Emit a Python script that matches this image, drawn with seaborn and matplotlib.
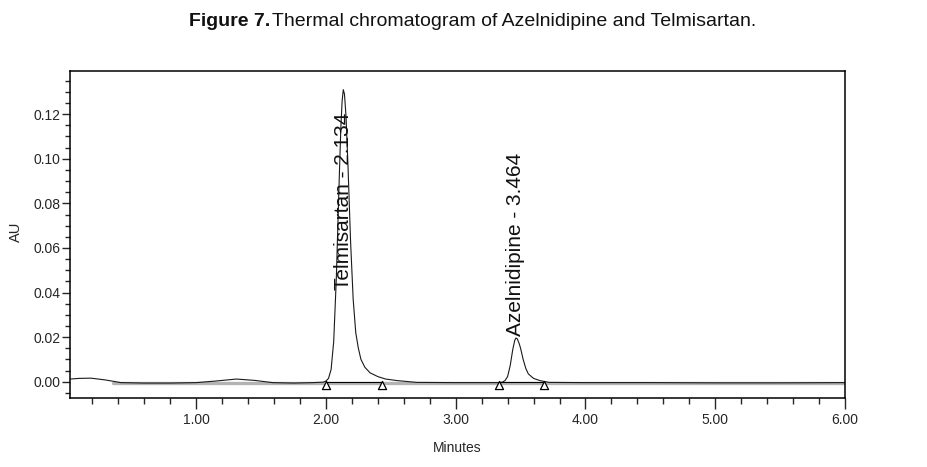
import matplotlib
matplotlib.use("Agg")
import matplotlib.pyplot as plt
from matplotlib.ticker import MultipleLocator, FormatStrFormatter
import seaborn as sns
import pandas as pd

# chromatogram trace (minutes, AU)
time_min = [0.03, 0.10, 0.19, 0.30, 0.42, 0.60, 0.80, 1.00, 1.15, 1.31, 1.45, 1.59, 1.75, 1.90,
            1.98, 2.00, 2.02, 2.04, 2.06, 2.08, 2.10, 2.115, 2.125, 2.134, 2.143, 2.155, 2.17,
            2.19, 2.21, 2.23, 2.25, 2.27, 2.30, 2.34, 2.40, 2.46, 2.55, 2.70, 3.00, 3.20, 3.33,
            3.36, 3.38, 3.40, 3.42, 3.44, 3.455, 3.464, 3.475, 3.49, 3.50, 3.52, 3.54, 3.56,
            3.60, 3.65, 3.72, 4.00, 4.50, 5.00, 5.50, 6.00]
au = [0.0012, 0.0015, 0.0016, 0.0008, -0.0004, -0.0006, -0.0006, -0.0004, 0.0003, 0.0012,
      0.0006, -0.0004, -0.0006, -0.0004, -0.0002, 0.0003, 0.0015, 0.0055, 0.018, 0.046, 0.086,
      0.114, 0.126, 0.131, 0.129, 0.119, 0.097, 0.063, 0.037, 0.022, 0.015, 0.010, 0.0065,
      0.004, 0.0023, 0.0012, 0.0005, -0.0003, -0.0004, -0.0004, -0.0004, -0.0002, 0.0005,
      0.0023, 0.0072, 0.0145, 0.0185, 0.0196, 0.0192, 0.0170, 0.0150, 0.0100, 0.0060, 0.0035,
      0.0015, 0.0005, -0.0003, -0.0004, -0.0004, -0.0005, -0.0005, -0.0004]

# flat baseline (grey band under the trace)
base_t = [0.36, 6.00]
base_au = [-0.0004, -0.0004]

# integration start/end marks
mark_t = [2.00, 2.43, 3.33, 3.68]
mark_au = [-0.0013, -0.0013, -0.0013, -0.0013]

# peak names
peak_t = [2.134, 3.464]
peak_label_y = [0.041, 0.0205]
peak_names = ["Telmisartan - 2.134", "Azelnidipine - 3.464"]

trace = pd.DataFrame({"Minutes": time_min, "AU": au})
marks = pd.DataFrame({"Minutes": mark_t, "AU": mark_au})

sns.set_style("ticks")
plt.rcParams['font.family'] = ['Liberation Sans', 'DejaVu Sans']

fig = plt.figure(figsize=(9.28, 4.67), dpi=100)
ax = fig.add_axes([70 / 928, 1 - 398 / 467, 775 / 928, 327.3 / 467])

ax.plot(base_t, base_au, color='#b3b3b3', lw=2.4, zorder=1)
sns.lineplot(data=trace, x="Minutes", y="AU", ax=ax, color='#1a1a1a', lw=0.8,
             sort=False, estimator=None, zorder=2)

# baselines between integration marks
ax.plot(mark_t[0:2], [-0.0002, -0.0002], color='black', lw=0.8, zorder=2)
ax.plot(mark_t[2:4], [-0.0003, -0.0003], color='black', lw=0.8, zorder=2)
sns.scatterplot(data=marks, x="Minutes", y="AU", ax=ax, marker='^', s=34,
                facecolor='white', edgecolor='black', linewidth=0.9, zorder=3)

for t, y, name in zip(peak_t, peak_label_y, peak_names):
    ax.text(t, y, name, rotation=90, ha='center', va='bottom', fontsize=15, color='#111111')

ax.set_xlim(0.028, 6.0)
ax.set_ylim(-0.0073, 0.1395)
ax.xaxis.set_major_locator(MultipleLocator(1.0))
ax.xaxis.set_minor_locator(MultipleLocator(0.2))
ax.yaxis.set_major_locator(MultipleLocator(0.02))
ax.yaxis.set_minor_locator(MultipleLocator(0.005))
ax.xaxis.set_major_formatter(FormatStrFormatter('%.2f'))
ax.yaxis.set_major_formatter(FormatStrFormatter('%.2f'))
ax.tick_params(axis='x', which='major', direction='out', length=8, width=1, pad=3, labelsize=10)
ax.tick_params(axis='x', which='minor', direction='out', length=4.5, width=1)
ax.tick_params(axis='y', which='major', direction='out', length=6, width=1, pad=1, labelsize=10)
ax.tick_params(axis='y', which='minor', direction='out', length=3.5, width=1)
for s in ax.spines.values():
    s.set_visible(True)
    s.set_color('black')
    s.set_linewidth(1.1)

ax.set_xlabel("Minutes", fontsize=10, labelpad=10)
ax.set_ylabel("")
fig.text(16 / 928, 1 - 232 / 467, "AU", rotation=90, ha='center', va='center', fontsize=10.5)

fig.text(189 / 928, 1 - 22 / 467, "Figure 7.", ha='left', va='center', fontsize=14,
         fontweight='bold', color='#111111')
fig.text(272 / 928, 1 - 22 / 467, "Thermal chromatogram of Azelnidipine and Telmisartan.",
         ha='left', va='center', fontsize=14, color='#111111')

fig.savefig("out.png", dpi=100)
